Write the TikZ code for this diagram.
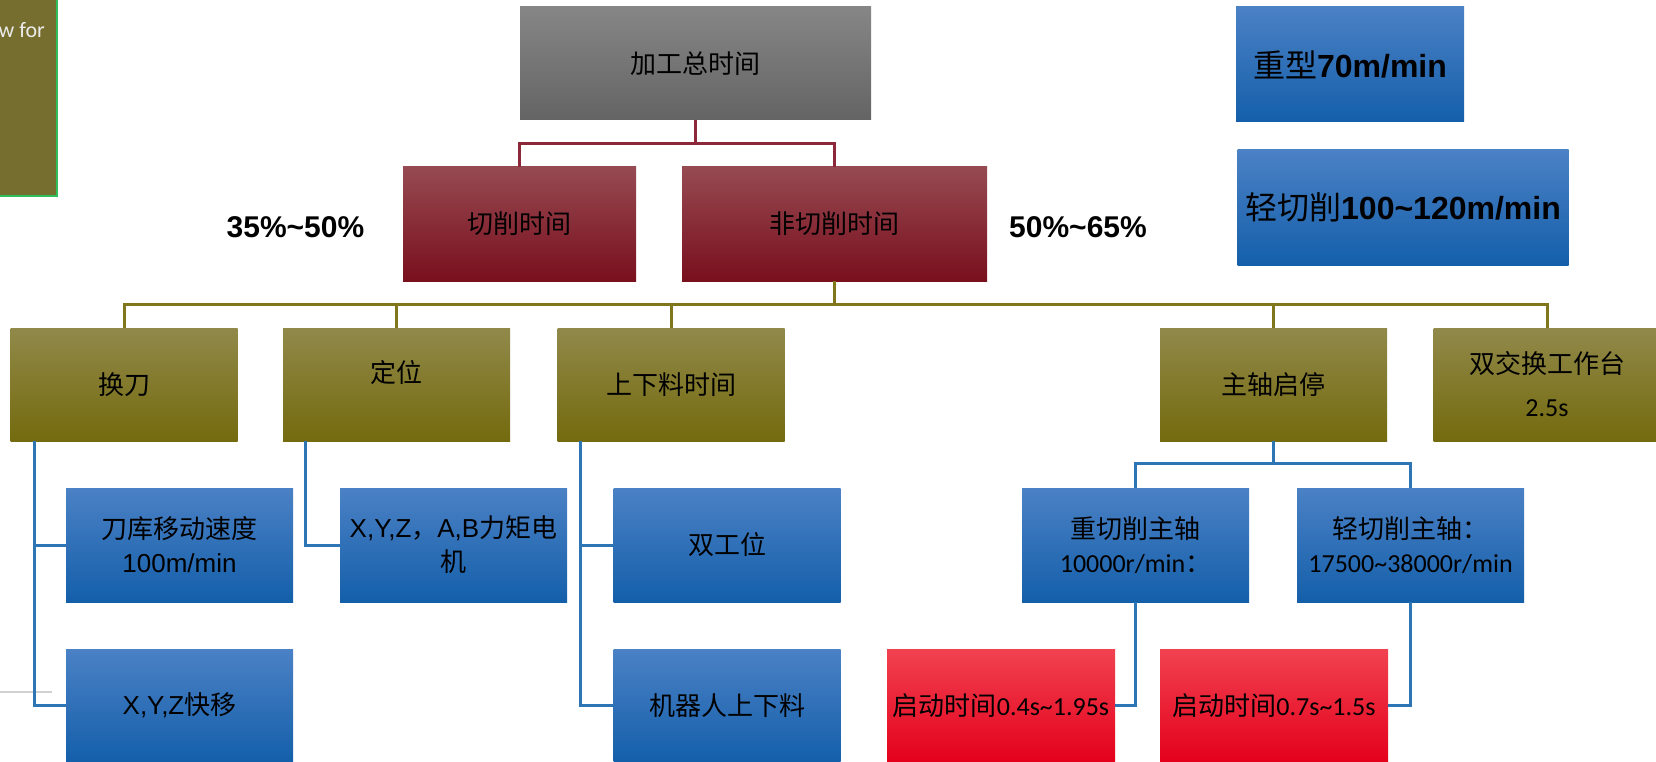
\documentclass[tikz,border=0pt]{standalone}
\usepackage{fontspec}
\setmainfont{Liberation Sans}
\newfontfamily\cjk{Noto Sans CJK SC}
\newfontfamily\calib{Carlito}
\definecolor{huiA}{RGB}{134,134,134}
\definecolor{huiB}{RGB}{100,100,100}
\definecolor{hongA}{RGB}{150,74,82}
\definecolor{hongB}{RGB}{121,15,29}
\definecolor{ganA}{RGB}{145,137,74}
\definecolor{ganB}{RGB}{116,106,14}
\definecolor{lanA}{RGB}{75,129,197}
\definecolor{lanB}{RGB}{20,95,170}
\definecolor{xianA}{RGB}{241,66,80}
\definecolor{xianB}{RGB}{228,0,28}
\definecolor{xianHong}{RGB}{140,40,58}
\definecolor{xianGan}{RGB}{128,118,28}
\definecolor{xianLan}{RGB}{46,117,182}
\definecolor{zuoLv}{RGB}{46,190,90}
\definecolor{zuoGan}{RGB}{118,110,46}
\newcommand{\lianhong}{\draw[xianHong,line width=3pt]}
\newcommand{\liangan}{\draw[xianGan,line width=3pt]}
\newcommand{\lianlan}{\draw[xianLan,line width=3pt]}

\begin{document}
\begin{tikzpicture}[x=1pt,y=-1pt,node distance=160.5pt,
    kuang/.style={inner sep=0pt,minimum width=227pt,minimum height=113pt,
      align=center,font=\fontsize{26}{34}\selectfont},
    hui/.style={kuang,top color=huiA,bottom color=huiB,minimum width=351pt},
    hong/.style={kuang,top color=hongA,bottom color=hongB,minimum height=114pt},
    gan/.style={kuang,top color=ganA,bottom color=ganB},
    lan/.style={kuang,top color=lanA,bottom color=lanB,minimum height=114pt},
    xian/.style={kuang,top color=xianA,bottom color=xianB,minimum width=228pt},
    da/.style={kuang,top color=lanA,bottom color=lanB,minimum height=115pt,
      font=\fontsize{32}{38}\selectfont},
    bili/.style={inner sep=0pt,font=\fontsize{30}{36}\selectfont\bfseries}]
      \useasboundingbox (0,0) rectangle (1656,762);

      % 左上角
      \node(zuoshang) [fill=zuoGan,draw=zuoLv,line width=1.5pt,inner sep=0pt,
        minimum width=77pt,minimum height=216pt] at (18.5,88) {};
      \node(zuowen) [anchor=east,inner sep=0pt,text=white!92!black,
        font=\calib\fontsize{22}{26}\selectfont] at (45,30) {w for};
      \draw[black!18,line width=2pt] (0,692) -- (52,692);

      % 第0、1层
      \node(zong)    [hui] at (695.5,63.5)   {\cjk 加工总时间};
      \node(qiexue)  [hong,minimum width=233pt] at (519.5,224) {\cjk 切削时间};
      \node(feiqie)  [hong,minimum width=305pt] at (834.5,224) {\cjk 非切削时间};
      \node(bili1)   [bili] at (295.5,227) {35\%\textasciitilde 50\%};
      \node(bili2)   [bili] at (1078,227)  {50\%\textasciitilde 65\%};
      \node(zhongx)  [da,minimum width=228pt] at (1350,64.5)
        {{\cjk 重型}\textbf{70m/min}};
      \node(qingx)   [da,minimum width=331pt] at (1403,207.5)
        {{\cjk 轻切削}\textbf{100\textasciitilde 120m/min}};

      \lianhong (zong.south) -- ++(0,23) -| (qiexue.north);
      \lianhong (zong.south) -- ++(0,23) -| (feiqie.north);

      % 第2层
      \node(huandao) [gan] at (124,384.5)    {\cjk 换刀};
      \node(dingwei) [gan] at (396.5,384.5)  {\raisebox{2pt}[0pt][0pt]{\cjk 定位}};
      \node(shangxia)[gan] at (671,384.5)    {\cjk 上下料时间};
      \node(zhuzhou) [gan] at (1273.5,384.5) {\cjk 主轴启停};
      \node(shuang)  [gan] at (1547,384.5)
        {{\cjk 双交换工作台}\\[9pt]{\calib 2.5s}};

      \liangan (feiqie.south) -- ++(0,23) -| (huandao.north);
      \liangan (feiqie.south) -- ++(0,23) -| (dingwei.north);
      \liangan (feiqie.south) -- ++(0,23) -| (shangxia.north);
      \liangan (feiqie.south) -- ++(0,23) -| (zhuzhou.north);
      \liangan (feiqie.south) -- ++(0,23) -| (shuang.north);

      % 第3层
      \node(daoku)   [lan,below of=huandao,xshift=55.5pt]
        {{\cjk 刀库移动速度}\\100m/min};
      \node(xyzab)   [lan,below of=dingwei,xshift=57pt]
        {X,Y,Z{\cjk ，}A,B{\cjk 力矩电}\\{\cjk 机}};
      \node(shuanggw)[lan,below of=shangxia,xshift=56pt] {\cjk 双工位};
      \node(zhongqie)[lan] at (1135.5,545)
        {{\cjk 重切削主轴}\\{\calib 10000r/min}{\cjk ：}};
      \node(qingqie) [lan] at (1410.5,545)
        {{\cjk 轻切削主轴：}\\{\calib 17500\textasciitilde 38000r/min}};

      \lianlan (zhuzhou.south) -- ++(0,22) -| (zhongqie.north);
      \lianlan (zhuzhou.south) -- ++(0,22) -| (qingqie.north);

      % 第4层
      \node(xyz)     [lan,below of=daoku,minimum height=113pt] {X,Y,Z{\cjk 快移}};
      \node(jiqiren) [lan,below of=shuanggw,minimum height=113pt] {\cjk 机器人上下料};
      \node(qidong1) [xian] at (1001,705.5)
        {{\cjk 启动时间}{\calib 0.4s\textasciitilde 1.95s}};
      \node(qidong2) [xian] at (1274,705.5)
        {{\cjk 启动时间}{\calib 0.7s\textasciitilde 1.5s}};

      \lianlan ([xshift=24pt]huandao.south west) |- (daoku.west);
      \lianlan ([xshift=24pt]huandao.south west) |- (xyz.west);
      \lianlan ([xshift=23pt]dingwei.south west) |- (xyzab.west);
      \lianlan ([xshift=23pt]shangxia.south west) |- (shuanggw.west);
      \lianlan ([xshift=23pt]shangxia.south west) |- (jiqiren.west);
      \lianlan (zhongqie.south) |- (qidong1.east);
      \lianlan (qingqie.south) |- (qidong2.east);
   \end{tikzpicture}
\end{document}
